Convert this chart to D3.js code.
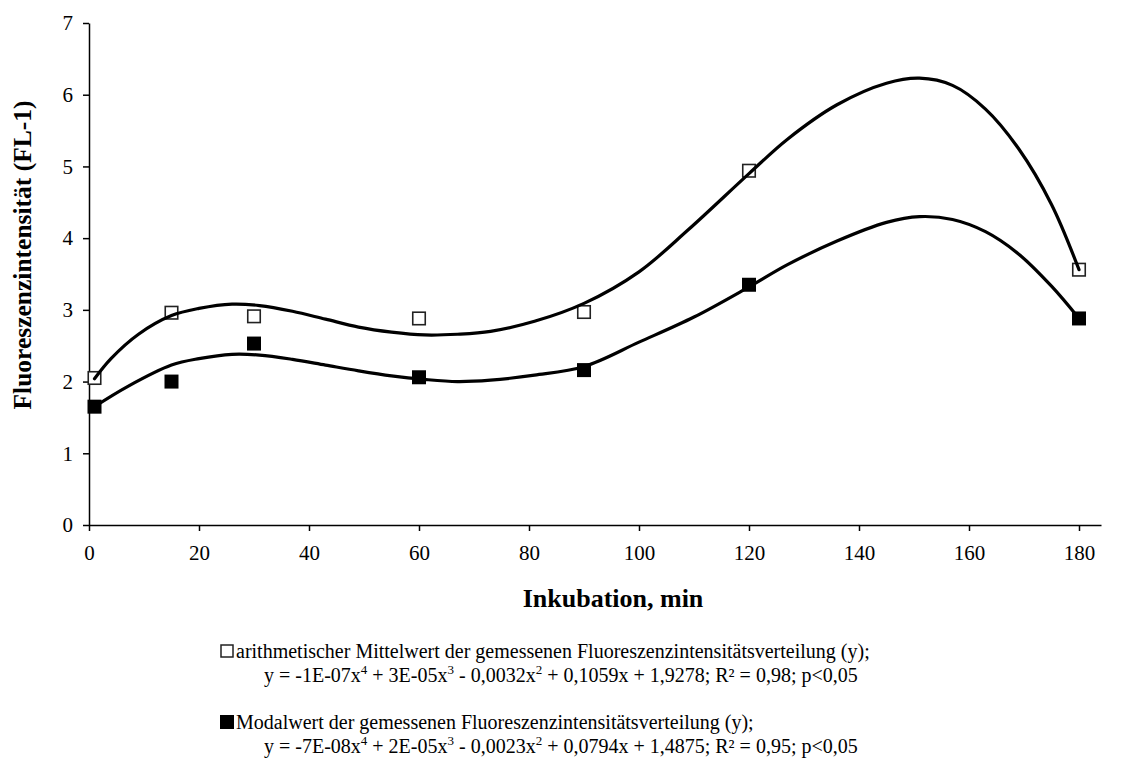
<!DOCTYPE html>
<html>
<head>
<meta charset="utf-8">
<script src="https://cdn.jsdelivr.net/npm/d3@7"></script>
<style>
  html, body { margin: 0; padding: 0; background: #fff; }
  svg { display: block; }
  svg text { font-family: "Liberation Serif", "Times New Roman", serif; fill: #000; }
</style>
</head>
<body>
<svg id="chart" width="1129" height="761"></svg>
<script>
// Incubation time points (min)
const times = [1, 15, 30, 60, 90, 120, 180];
// Arithmetic mean of the measured fluorescence intensity distribution (FL-1)
const meanValues = [2.05, 2.96, 2.91, 2.88, 2.97, 4.94, 3.56];
// Modal value of the measured fluorescence intensity distribution (FL-1)
const modalValues = [1.65, 2.00, 2.53, 2.06, 2.16, 3.35, 2.88];

// Polynomial trend curves (4th order), sampled [min, FL-1]
const meanTrend = [
  [1, 2.04], [4, 2.32], [9, 2.66], [15, 2.92], [20, 3.02], [26, 3.08], [31, 3.06],
  [37, 2.98], [43, 2.87], [49, 2.76], [55, 2.69], [61, 2.65], [67, 2.66], [73, 2.70],
  [81, 2.84], [90, 3.09], [100, 3.53], [109, 4.12], [120, 4.90], [127, 5.38],
  [136, 5.86], [145, 6.16], [151, 6.23], [157, 6.13], [163, 5.80], [169, 5.25],
  [175, 4.47], [180, 3.56]
];
const modalTrend = [
  [1, 1.65], [7, 1.93], [15, 2.23], [20, 2.32], [26, 2.38], [31, 2.37], [37, 2.31],
  [43, 2.23], [49, 2.15], [55, 2.08], [61, 2.03], [67, 2.00], [73, 2.02], [81, 2.09],
  [90, 2.21], [100, 2.55], [110, 2.90], [120, 3.32], [127, 3.63], [136, 3.96],
  [145, 4.22], [151, 4.30], [157, 4.26], [163, 4.09], [169, 3.78], [175, 3.33],
  [180, 2.88]
];

const xTicks = [0, 20, 40, 60, 80, 100, 120, 140, 160, 180];
const yTicks = [0, 1, 2, 3, 4, 5, 6, 7];

const xTitle = "Inkubation, min";
const yTitle = "Fluoreszenzintensität (FL-1)";
const legendMeanLabel = "arithmetischer Mittelwert der gemessenen Fluoreszenzintensitätsverteilung (y);";
const legendModalLabel = "Modalwert der gemessenen Fluoreszenzintensitätsverteilung (y);";
// Equation terms: [text, superscript]
const meanEquation = [["y = -1E-07x", "4"], [" + 3E-05x", "3"], [" - 0,0032x", "2"], [" + 0,1059x + 1,9278; R² = 0,98; p<0,05", ""]];
const modalEquation = [["y = -7E-08x", "4"], [" + 2E-05x", "3"], [" - 0,0023x", "2"], [" + 0,0794x + 1,4875; R² = 0,95; p<0,05", ""]];

const svg = d3.select("#chart");
const plot = { left: 89, right: 1101, top: 23, bottom: 525 };

// The horizontal axis line runs a little past the last tick (180 min)
const x = d3.scaleLinear().domain([0, 184]).range([plot.left, plot.right]);
const y = d3.scaleLinear().domain([0, 7]).range([plot.bottom, plot.top]);

// Axes
const xAxis = svg.append("g")
  .attr("transform", `translate(0,${plot.bottom})`)
  .call(d3.axisBottom(x).tickValues(xTicks).tickFormat(d3.format("d"))
    .tickSize(6).tickSizeOuter(0).tickPadding(14));
const yAxis = svg.append("g")
  .attr("transform", `translate(${plot.left},0)`)
  .call(d3.axisLeft(y).tickValues(yTicks).tickFormat(d3.format("d"))
    .tickSize(6).tickSizeOuter(0).tickPadding(10));

[xAxis, yAxis].forEach(g => {
  g.attr("font-family", null).attr("font-size", null);
  g.select(".domain").attr("stroke", "#000").attr("stroke-width", 1.5);
  g.selectAll(".tick line").attr("stroke", "#000").attr("stroke-width", 1.5);
  g.selectAll(".tick text").attr("fill", "#000").style("font-size", "21px");
});

// Axis titles
svg.append("text")
  .attr("x", 613).attr("y", 607)
  .attr("text-anchor", "middle")
  .style("font-weight", "bold").style("font-size", "26px")
  .text(xTitle);

svg.append("text")
  .attr("transform", "translate(31,255) rotate(-90)")
  .attr("text-anchor", "middle")
  .style("font-weight", "bold").style("font-size", "25.5px")
  .text(yTitle);

// Markers
const openSize = 12.5;
const fillSize = 14;
svg.append("g").selectAll("rect")
  .data(times.map((t, i) => [t, meanValues[i]]))
  .join("rect")
  .attr("x", d => x(d[0]) - openSize / 2)
  .attr("y", d => y(d[1]) - openSize / 2)
  .attr("width", openSize).attr("height", openSize)
  .attr("fill", "#fff").attr("stroke", "#222").attr("stroke-width", 1.6);

svg.append("g").selectAll("rect")
  .data(times.map((t, i) => [t, modalValues[i]]))
  .join("rect")
  .attr("x", d => x(d[0]) - fillSize / 2)
  .attr("y", d => y(d[1]) - fillSize / 2)
  .attr("width", fillSize).attr("height", fillSize)
  .attr("fill", "#000");

// Trend curves
const line = d3.line()
  .x(d => x(d[0]))
  .y(d => y(d[1]))
  .curve(d3.curveCatmullRom.alpha(0.5));

[meanTrend, modalTrend].forEach(series => {
  svg.append("path")
    .datum(series)
    .attr("fill", "none")
    .attr("stroke", "#000")
    .attr("stroke-width", 3.2)
    .attr("stroke-linejoin", "round")
    .attr("stroke-linecap", "round")
    .attr("d", line);
});

// Legend
const legend = svg.append("g").style("font-size", "20px");

function equation(gSel, xPos, yPos, parts) {
  const t = gSel.append("text").attr("x", xPos).attr("y", yPos);
  let raised = false;
  parts.forEach(([txt, sup]) => {
    const base = t.append("tspan").text(txt);
    if (raised) { base.attr("dy", 8); raised = false; }
    if (sup) {
      t.append("tspan").attr("dy", -8).style("font-size", "13px").text(sup);
      raised = true;
    }
  });
}

legend.append("rect")
  .attr("x", 221).attr("y", 645).attr("width", 12).attr("height", 12)
  .attr("fill", "#fff").attr("stroke", "#222").attr("stroke-width", 1.5);
legend.append("text").attr("x", 236).attr("y", 658).text(legendMeanLabel);
equation(legend, 264, 682, meanEquation);

legend.append("rect")
  .attr("x", 220).attr("y", 715).attr("width", 14).attr("height", 14)
  .attr("fill", "#000");
legend.append("text").attr("x", 236).attr("y", 729).text(legendModalLabel);
equation(legend, 264, 753, modalEquation);
</script>
</body>
</html>
